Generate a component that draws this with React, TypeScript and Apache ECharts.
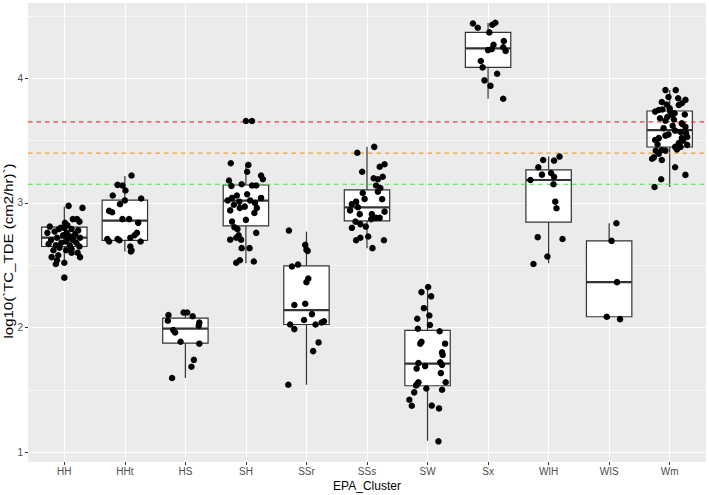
import React, { useEffect, useRef } from 'react';
import * as echarts from 'echarts';

const categories = ['HH', 'HHt', 'HS', 'SH', 'SSr', 'SSs', 'SW', 'Sx', 'WIH', 'WIS', 'Wm'];

// [lower whisker, Q1, median, Q3, upper whisker]
const boxStats = [
  [2.51, 2.65, 2.722, 2.805, 2.97],
  [2.61, 2.7, 2.858, 3.022, 3.216],
  [1.594, 1.875, 1.99, 2.075, 2.12],
  [2.516, 2.816, 3.018, 3.144, 3.305],
  [1.54, 2.024, 2.14, 2.495, 2.77],
  [2.637, 2.856, 2.965, 3.104, 3.45],
  [1.09, 1.532, 1.709, 1.976, 2.33],
  [3.836, 4.088, 4.24, 4.369, 4.446],
  [2.516, 2.845, 3.184, 3.265, 3.372],
  [2.067, 2.086, 2.364, 2.695, 2.837],
  [3.128, 3.449, 3.585, 3.738, 3.906],
];

// jittered points: [offset from category centre, log10 value]
const ptsHH = [
  [0.07, 2.976], [0.3, 2.96], [0.01, 2.84], [0.14, 2.87], [0.21, 2.87], [0.25, 2.85], [0.05, 2.82],
  [-0.24, 2.81], [-0.06, 2.8], [-0.09, 2.79], [0.0, 2.8], [0.12, 2.79], [0.23, 2.78], [-0.28, 2.76],
  [-0.16, 2.77], [0.04, 2.76], [0.18, 2.75], [-0.02, 2.74], [0.1, 2.73], [0.26, 2.72], [-0.12, 2.72],
  [0.06, 2.71], [-0.22, 2.7], [0.15, 2.7], [0.02, 2.69], [-0.05, 2.68], [0.2, 2.68], [-0.26, 2.67],
  [0.09, 2.66], [-0.14, 2.66], [0.25, 2.65], [-0.08, 2.64], [0.12, 2.63], [-0.18, 2.62], [0.03, 2.62],
  [0.22, 2.6], [-0.1, 2.58], [0.12, 2.6], [-0.21, 2.565], [0.26, 2.565], [-0.14, 2.51], [0.0, 2.52],
  [-0.12, 2.54], [0.0, 2.4],
];
const ptsHHt = [
  [0.11, 3.22], [-0.12, 3.145], [-0.04, 3.14], [0.01, 3.1], [-0.2, 3.06], [0.27, 3.035], [0.0, 3.02],
  [-0.08, 2.99], [-0.26, 2.936], [-0.21, 2.925], [-0.04, 2.87], [0.07, 2.87], [0.22, 2.84], [0.2, 2.76],
  [0.16, 2.74], [0.09, 2.72], [-0.29, 2.71], [-0.26, 2.69], [-0.12, 2.71], [-0.09, 2.7], [0.26, 2.69],
  [0.09, 2.65], [0.11, 2.62], [0.1, 2.61],
];
const ptsHS = [
  [-0.03, 2.12], [0.03, 2.12], [-0.28, 2.1], [0.12, 2.09], [-0.29, 2.054], [0.23, 2.04], [0.22, 2.015],
  [-0.2, 1.979], [-0.17, 1.96], [-0.08, 1.885], [0.23, 1.87], [0.14, 1.74], [0.1, 1.685], [-0.22, 1.594],
];
const ptsSH = [
  [0.0, 3.658], [0.1, 3.658], [-0.25, 3.318], [0.04, 3.305], [0.02, 3.25], [0.25, 3.22], [0.28, 3.19],
  [-0.28, 3.18], [-0.24, 3.136], [-0.07, 3.15], [0.1, 3.14], [0.17, 3.14], [-0.15, 3.06], [0.02, 3.07],
  [-0.23, 3.04], [0.25, 3.04], [-0.3, 3.02], [-0.11, 3.01], [0.07, 3.02], [0.15, 3.0], [-0.2, 2.985],
  [-0.02, 2.97], [0.18, 2.96], [0.14, 2.92], [-0.1, 2.96], [-0.26, 2.94], [0.0, 2.864], [-0.23, 2.85],
  [-0.19, 2.805], [-0.14, 2.79], [0.17, 2.76], [-0.12, 2.74], [-0.16, 2.72], [-0.26, 2.705], [-0.08, 2.705],
  [-0.07, 2.637], [0.06, 2.637], [-0.1, 2.54], [-0.16, 2.52], [0.13, 2.53],
];
const ptsSSr = [
  [-0.29, 2.778], [-0.02, 2.663], [0.02, 2.615], [0.0, 2.625], [-0.24, 2.49], [-0.14, 2.505], [0.03, 2.393],
  [0.0, 2.364], [-0.2, 2.18], [-0.02, 2.19], [0.09, 2.107], [-0.04, 2.06], [-0.27, 2.024], [-0.2, 1.987],
  [0.15, 2.024], [0.25, 2.04], [0.29, 2.05], [0.2, 1.88], [0.11, 1.81], [-0.3, 1.54],
];
const ptsSSs = [
  [0.12, 3.45], [-0.16, 3.403], [-0.08, 3.25], [0.21, 3.29], [0.29, 3.31], [0.11, 3.198], [0.18, 3.19],
  [0.26, 3.21], [0.15, 3.14], [0.22, 3.12], [-0.07, 3.08], [0.18, 3.09], [-0.04, 3.032], [-0.18, 3.01],
  [-0.25, 2.99], [0.25, 3.03], [-0.15, 2.965], [-0.28, 2.94], [-0.12, 2.91], [0.29, 2.93], [0.08, 2.91],
  [0.15, 2.88], [0.21, 2.88], [0.07, 2.87], [-0.19, 2.85], [-0.11, 2.83], [-0.02, 2.81], [-0.25, 2.8],
  [0.02, 2.73], [-0.11, 2.72], [-0.18, 2.7], [0.28, 2.7], [0.09, 2.637],
];
const ptsSW = [
  [0.01, 2.325], [-0.1, 2.284], [0.06, 2.25], [-0.06, 2.155], [0.03, 2.096], [-0.17, 2.07], [0.04, 2.02],
  [-0.16, 1.99], [0.2, 1.97], [-0.1, 1.885], [-0.12, 1.87], [0.29, 1.87], [0.24, 1.8], [0.25, 1.78],
  [-0.15, 1.714], [-0.04, 1.69], [-0.18, 1.67], [0.21, 1.72], [0.24, 1.7], [0.22, 1.634], [0.3, 1.56],
  [-0.15, 1.56], [-0.17, 1.545], [-0.19, 1.535], [-0.02, 1.51], [0.24, 1.5], [-0.22, 1.479], [-0.3, 1.42],
  [-0.26, 1.372], [0.07, 1.373], [0.19, 1.35], [0.18, 1.086],
];
const ptsSx = [
  [-0.25, 4.44], [-0.17, 4.406], [0.07, 4.43], [0.12, 4.446], [0.02, 4.369], [0.09, 4.27], [0.26, 4.3],
  [0.0, 4.227], [0.06, 4.235], [0.29, 4.22], [0.25, 4.25], [-0.12, 4.139], [-0.09, 4.088], [-0.06, 3.984],
  [0.04, 3.94], [0.15, 4.037], [0.25, 3.836],
];
const ptsWIH = [
  [0.18, 3.372], [-0.09, 3.345], [0.09, 3.34], [-0.17, 3.286], [-0.11, 3.227], [0.04, 3.24], [0.09, 3.21],
  [-0.3, 3.184], [0.08, 3.15], [0.11, 3.01], [0.13, 2.957], [-0.18, 2.725], [0.23, 2.71], [-0.02, 2.57],
  [-0.25, 2.51],
];
const ptsWIS = [[0.12, 2.837], [0.04, 2.695], [0.13, 2.364], [-0.04, 2.086], [0.18, 2.067]];
const ptsWm = [
  [-0.07, 3.906], [0.1, 3.906], [0.14, 3.84], [-0.02, 3.85], [0.26, 3.827], [-0.13, 3.81], [-0.05, 3.79],
  [0.2, 3.8], [0.15, 3.786], [-0.18, 3.746], [-0.24, 3.733], [-0.12, 3.75], [0.01, 3.733], [0.04, 3.706],
  [-0.04, 3.69], [-0.07, 3.66], [0.07, 3.67], [0.21, 3.633], [0.26, 3.61], [0.09, 3.58], [0.18, 3.57],
  [0.29, 3.53], [-0.02, 3.55], [-0.07, 3.54], [-0.18, 3.52], [-0.24, 3.505], [0.2, 3.52], [0.15, 3.48],
  [0.29, 3.466], [0.09, 3.45], [-0.13, 3.425], [-0.23, 3.42], [-0.07, 3.42], [-0.18, 3.395], [-0.26, 3.366],
  [-0.29, 3.355], [-0.13, 3.345], [0.09, 3.286], [0.26, 3.225], [-0.14, 3.19], [-0.25, 3.128],
  [0.05, 3.62], [-0.1, 3.6], [0.2, 3.64], [0.27, 3.56], [-0.2, 3.47], [0.12, 3.43], [0.22, 3.5],
  [-0.16, 3.68], [0.0, 3.76], [0.08, 3.72], [0.18, 3.45], [0.25, 3.71],
];
const groupPoints = [ptsHH, ptsHHt, ptsHS, ptsSH, ptsSSr, ptsSSs, ptsSW, ptsSx, ptsWIH, ptsWIS, ptsWm];

const thresholds = [3.65, 3.4, 3.15];
const thresholdColors = ['#F53A3A', '#F5A035', '#3CEB3C'];

const yTicks = [1, 2, 3, 4];
const yMinor = [1.5, 2.5, 3.5, 4.5];

const xTitle = 'EPA_Cluster';
const yTitle = 'log10(`TC_TDE (cm2/hr)`)';

const FONT = '"Liberation Sans", Arial, Helvetica, sans-serif';

export default function App() {
  const ref = useRef<HTMLDivElement>(null);

  useEffect(() => {
    if (!ref.current) return;
    const chart = echarts.init(ref.current, undefined, { renderer: 'svg' });

    const xPositions = categories.map((_, i) => i + 1);
    const boxData = boxStats.map((s, i) => [i + 1, ...s]);
    const pointData: number[][] = [];
    groupPoints.forEach((pts, i) => {
      pts.forEach(([dx, v]) => pointData.push([i + 1 + dx, v]));
    });

    const lineColor = '#333333';

    const series: any[] = [
      {
        type: 'scatter',
        data: [],
        silent: true,
        z: 1,
        markLine: {
          silent: true,
          symbol: 'none',
          label: { show: false },
          lineStyle: { color: '#FFFFFF', width: 0.6, type: 'solid' },
          data: yMinor.map((v) => ({ yAxis: v })),
          z: 1,
        },
      },
      {
        type: 'custom',
        z: 3,
        encode: { x: 0, y: [1, 2, 3, 4, 5] },
        data: boxData,
        renderItem: (params: any, api: any) => {
          const x = api.value(0);
          const lo = api.coord([x, api.value(1)]);
          const q1 = api.coord([x, api.value(2)]);
          const med = api.coord([x, api.value(3)]);
          const q3 = api.coord([x, api.value(4)]);
          const hi = api.coord([x, api.value(5)]);
          const half = api.size([0.75, 0])[0] / 2;
          const cx = q1[0];
          return {
            type: 'group',
            children: [
              {
                type: 'line',
                shape: { x1: cx, y1: hi[1], x2: cx, y2: q3[1] },
                style: { stroke: lineColor, lineWidth: 1.2 },
              },
              {
                type: 'line',
                shape: { x1: cx, y1: q1[1], x2: cx, y2: lo[1] },
                style: { stroke: lineColor, lineWidth: 1.2 },
              },
              {
                type: 'rect',
                shape: { x: cx - half, y: q3[1], width: half * 2, height: q1[1] - q3[1] },
                style: { fill: '#FFFFFF', stroke: lineColor, lineWidth: 1.2 },
              },
              {
                type: 'line',
                shape: { x1: cx - half, y1: med[1], x2: cx + half, y2: med[1] },
                style: { stroke: lineColor, lineWidth: 2.2 },
              },
            ],
          };
        },
      },
      ...thresholds.map((t, i) => ({
        type: 'line',
        z: 4,
        silent: true,
        symbol: 'none',
        data: [
          [0.4, t],
          [11.6, t],
        ],
        lineStyle: { color: thresholdColors[i], width: 1.2, type: [4.5, 4] },
      })),
      {
        type: 'scatter',
        z: 5,
        symbolSize: 6.5,
        itemStyle: { color: '#000000', opacity: 1 },
        data: pointData,
      },
    ];

    chart.setOption({
      animation: false,
      backgroundColor: '#FFFFFF',
      textStyle: { fontFamily: FONT },
      grid: {
        left: 28,
        right: 3,
        top: 3,
        bottom: 33,
        show: true,
        backgroundColor: '#EBEBEB',
        borderWidth: 0,
        containLabel: false,
        outerBoundsMode: 'none',
      },
      graphic: [
        {
          type: 'text',
          x: 9,
          y: 251,
          rotation: Math.PI / 2,
          scaleX: 1.25,
          silent: true,
          style: {
            text: yTitle,
            fontSize: 12,
            fontFamily: FONT,
            fill: '#000000',
            align: 'center',
            verticalAlign: 'middle',
          },
        },
      ],
      xAxis: {
        type: 'value',
        min: 0.4,
        max: 11.6,
        name: xTitle,
        nameLocation: 'middle',
        nameGap: 18,
        nameMoveOverlap: false,
        nameTextStyle: { color: '#000000', fontSize: 12, fontFamily: FONT },
        axisLine: { show: false },
        axisTick: { show: true, customValues: xPositions, length: 3, lineStyle: { color: '#333333', width: 1 } },
        axisLabel: {
          customValues: xPositions,
          formatter: (v: number) => categories[Math.round(v) - 1] ?? '',
          color: '#4D4D4D',
          fontSize: 10,
          margin: 4,
          fontFamily: FONT,
        },
        splitLine: { show: true, lineStyle: { color: '#FFFFFF', width: 1.1 } },
      },
      yAxis: {
        type: 'value',
        min: 0.92,
        max: 4.605,
        axisLine: { show: false },
        axisTick: { show: true, customValues: yTicks, length: 3, lineStyle: { color: '#333333', width: 1 } },
        axisLabel: {
          customValues: yTicks,
          color: '#4D4D4D',
          fontSize: 10,
          margin: 5,
          fontFamily: FONT,
        },
        splitLine: { show: true, lineStyle: { color: '#FFFFFF', width: 1.1 } },
      },
      series,
    });

    return () => {
      chart.dispose();
    };
  }, []);

  return (
    <div
      ref={ref}
      style={{ position: 'fixed', left: 0, top: 0, width: 709, height: 495, background: '#FFFFFF' }}
    />
  );
}
